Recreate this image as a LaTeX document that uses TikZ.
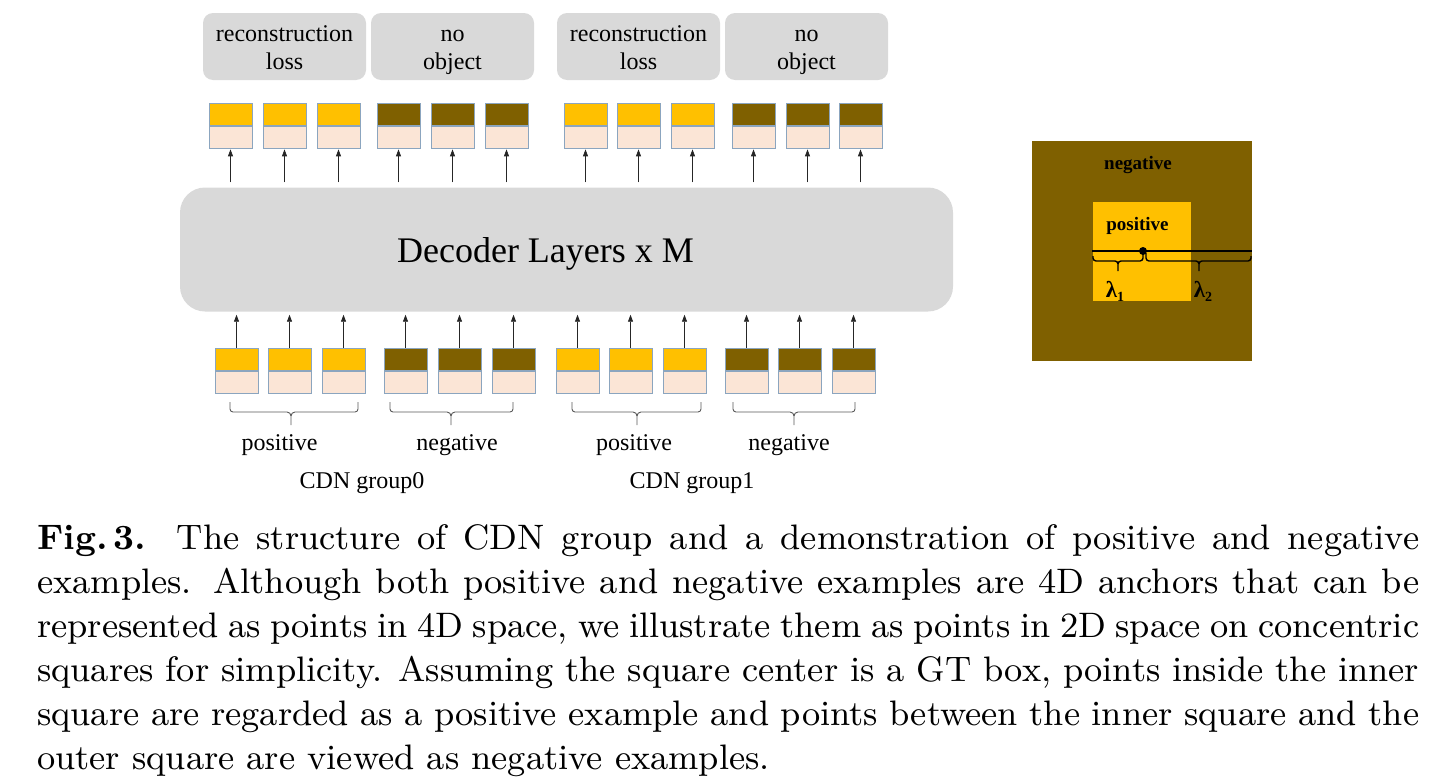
\documentclass[tikz,border=0pt]{standalone}
\usepackage{fontspec}
\newfontfamily\tnr{Liberation Serif}
\newfontfamily\capfont{lmroman9-regular.otf}[BoldFont=lmroman9-bold.otf]
\usetikzlibrary{arrows.meta}
\definecolor{tokgold}{HTML}{FFC000}
\definecolor{tokbrown}{HTML}{7F6000}
\definecolor{tokpink}{HTML}{FBE5D6}
\definecolor{tokedge}{HTML}{8BA5BF}
\definecolor{panelgray}{HTML}{D9D9D9}
\definecolor{bracegray}{HTML}{595959}
\tikzset{
  half/.style={minimum width=43pt, minimum height=22.5pt, inner sep=0pt, draw=tokedge, line width=0.9pt},
  panel/.style={fill=panelgray, inner sep=0pt},
  arr/.style={-{Triangle[length=7pt,width=5pt]}, line width=0.8pt, draw=black!85},
  lbl/.style={font=\fontsize{24}{28}\selectfont\tnr, anchor=base, inner sep=0pt},
  sqlbl/.style={font=\fontsize{19}{19}\selectfont\tnr\bfseries, anchor=base, inner sep=0pt},
  lamlbl/.style={font=\fontsize{23}{23}\selectfont\tnr\bfseries, anchor=base, inner sep=0pt},
  brc/.style={draw=bracegray, line width=0.9pt},
  sqbrc/.style={draw=black, line width=1.4pt},
}
\begin{document}
\begin{tikzpicture}[x=1pt,y=-1pt]
\useasboundingbox (0,0) rectangle (1443,779);

% ---------- top label boxes ----------
\foreach \cx/\n in {284.5/1,452.5/2,638.5/3,806.5/4}
  \node[panel, minimum width=163pt, minimum height=67pt, rounded corners=10pt] (lab\n) at (\cx,46.5) {};
\node[lbl] (lab1a) at (284.5,41.7) {reconstruction};
\node[lbl] (lab1b) at (284.5,69.3) {loss};
\node[lbl] (lab2a) at (452.5,41.7) {no};
\node[lbl] (lab2b) at (452.5,69.3) {object};
\node[lbl] (lab3a) at (638.5,41.7) {reconstruction};
\node[lbl] (lab3b) at (638.5,69.3) {loss};
\node[lbl] (lab4a) at (806.5,41.7) {no};
\node[lbl] (lab4b) at (806.5,69.3) {object};

% ---------- decoder ----------
\node[panel, minimum width=773pt, minimum height=124pt, rounded corners=25pt] (dec) at (566.5,249.5) {};
\node[font=\fontsize{36}{40}\selectfont\tnr, anchor=base, inner sep=0pt] (dect) at (545.5,262.5) {Decoder Layers x M};

% ---------- top tokens ----------
\foreach \x/\c [count=\i] in {209/tokgold,263/tokgold,317/tokgold,377/tokbrown,431/tokbrown,485/tokbrown,
                              564/tokgold,617/tokgold,671/tokgold,732/tokbrown,786/tokbrown,839/tokbrown}{
  \node[half, fill=\c] (tu\i) at (\x+21.5,114.25) {};
  \node[half, fill=tokpink, anchor=north] (tl\i) at (tu\i.south) {};
  \draw[arr, shorten <=5pt] (dec.north -| tl\i.south) -- (tl\i.south);
}

% ---------- bottom tokens ----------
\foreach \x/\c [count=\i] in {215/tokgold,268/tokgold,322/tokgold,384/tokbrown,438/tokbrown,492/tokbrown,
                              556/tokgold,609/tokgold,663/tokgold,725/tokbrown,778/tokbrown,832/tokbrown}{
  \node[half, fill=\c] (bu\i) at (\x+21.5,359.25) {};
  \node[half, fill=tokpink, anchor=north] (bl\i) at (bu\i.south) {};
  \draw[arr, shorten >=3pt] (bu\i.north) -- (bu\i.north |- dec.south);
}

% ---------- braces under groups ----------
\foreach \a/\m/\b in {230/291/358, 390/451/513, 572/637/701, 733/794/855}{
  \draw[brc] (\a,402) -- (\a,409) to[out=-90,in=180] (\a+3,412) -- (\m-4,412)
             to[out=0,in=90] (\m,416) -- (\m,425);
  \draw[brc] (\b,402) -- (\b,409) to[out=-90,in=0] (\b-3,412) -- (\m+4,412)
             to[out=180,in=90] (\m,416);
}
\node[lbl] (pos0) at (279.5,450) {positive};
\node[lbl] (neg0) at (457,450) {negative};
\node[lbl] (grp0) at (362,488) {CDN group0};
\node[lbl] (pos1) at (634,450) {positive};
\node[lbl] (neg1) at (789,450) {negative};
\node[lbl] (grp1) at (692,488) {CDN group1};

% ---------- concentric squares ----------
\fill[tokbrown] (1032,141) rectangle (1252,361);
\fill[tokgold] (1093,202) rectangle (1191,301);
\node[sqlbl] (sqneg) at (1138,169) {negative};
\node[sqlbl] (sqpos) at (1137.5,230) {positive};
\draw[black, line width=1.4pt] (1092,251) -- (1252,251);
\fill[black] (1143,251) circle (4);
% left brace (lambda 1)
\draw[sqbrc] (1093,256) -- (1093,258) to[out=-90,in=180] (1096,261) -- (1115,261)
             to[out=0,in=90] (1118,264) -- (1118,271);
\draw[sqbrc] (1143,253) -- (1143,258) to[out=-90,in=0] (1140,261) -- (1121,261)
             to[out=180,in=90] (1118,264);
% right brace (lambda 2)
\draw[sqbrc] (1146,253) -- (1146,258) to[out=-90,in=180] (1149,261) -- (1196,261)
             to[out=0,in=90] (1199,264) -- (1199,271);
\draw[sqbrc] (1251,256) -- (1251,258) to[out=-90,in=0] (1248,261) -- (1202,261)
             to[out=180,in=90] (1199,264);
\node[lamlbl] (lam1) at (1115,297) {λ\raisebox{-4pt}{\fontsize{14}{14}\selectfont 1}};
\node[lamlbl] (lam2) at (1203,297) {λ\raisebox{-4pt}{\fontsize{14}{14}\selectfont 2}};

% ---------- caption ----------
\node[anchor=north west, inner sep=0pt, text width=1382pt, align=justify,
      font=\fontsize{35.4}{44}\selectfont\capfont] (cap) at (37,524)
{\hyphenpenalty=10000\exhyphenpenalty=10000
\textbf{Fig.\,3.} The structure of CDN group and a demonstration of positive and negative\linebreak
examples. Although both positive and negative examples are 4D anchors that can be\linebreak
represented as points in 4D space, we illustrate them as points in 2D space on concentric\linebreak
squares for simplicity. Assuming the square center is a GT box, points inside the inner\linebreak
square are regarded as a positive example and points between the inner square and the\linebreak
outer square are viewed as negative examples.};
\end{tikzpicture}
\end{document}
